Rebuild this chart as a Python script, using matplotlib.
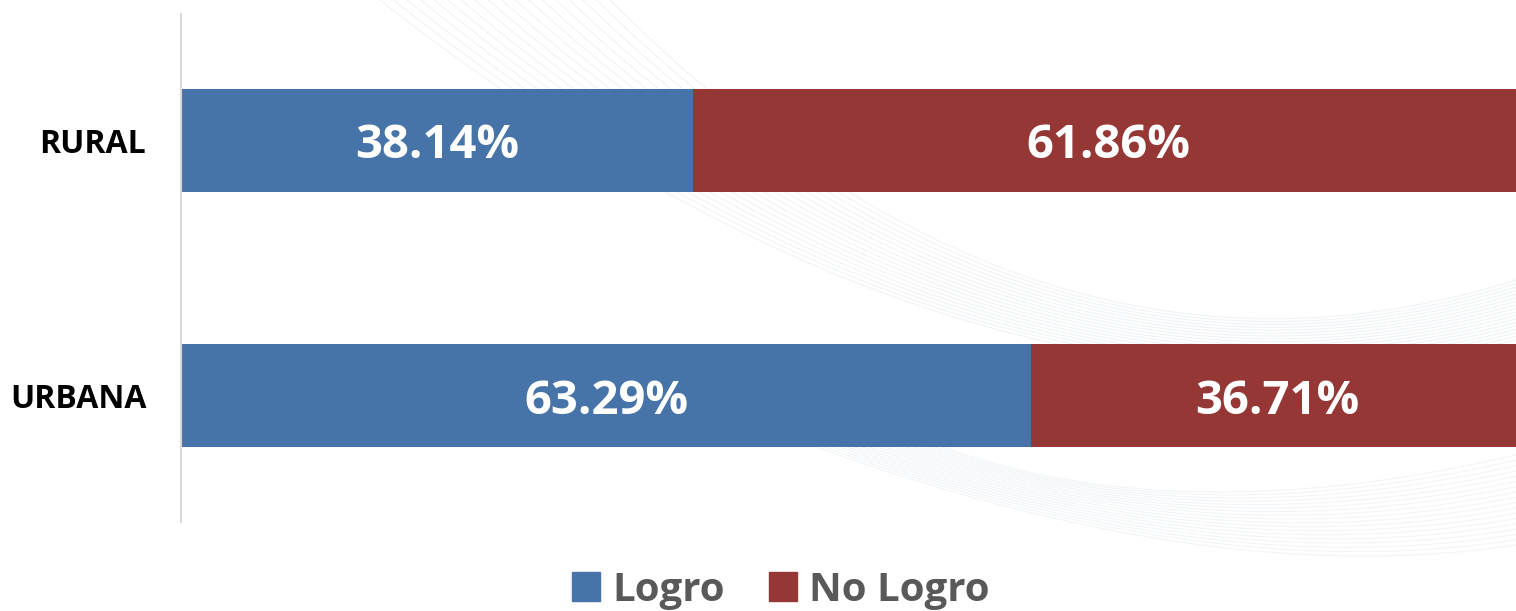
import numpy as np
import matplotlib.pyplot as plt
from matplotlib.patches import Patch

plt.rcParams['font.family'] = ['Open Sans', 'DejaVu Sans']

# Data (percent)
categories = ["URBANA", "RURAL"]
logro = [63.29, 38.14]
no_logro = [36.71, 61.86]
series_names = ["Logro", "No Logro"]

BLUE = "#4673A8"
RED = "#953735"

fig = plt.figure(figsize=(15.16, 6.11), dpi=100)

# Faint decorative swoosh in the background (pixel coords, y down)
bg = fig.add_axes([0, 0, 1, 1], zorder=0)
bg.set_xlim(0, 1516)
bg.set_ylim(611, 0)
bg.axis("off")
t = np.linspace(0, 1, 200)


def bezier(p0, p1, p2):
    x = (1 - t) ** 2 * p0[0] + 2 * (1 - t) * t * p1[0] + t ** 2 * p2[0]
    y = (1 - t) ** 2 * p0[1] + 2 * (1 - t) * t * p1[1] + t ** 2 * p2[1]
    return x, y


for i in range(18):
    f = i / 17
    x, y = bezier((380 + 230 * f, 0), (980 + 60 * f, 470 - 40 * f), (1516, 340 - 60 * f))
    bg.plot(x, y, color="#DDE4EA", lw=0.8, alpha=0.45)
    # second band starts hidden behind the lower bar
    x, y = bezier((650 + 250 * f, 380 + 50 * f), (1150, 600 - 60 * f), (1516, 545 - 90 * f))
    bg.plot(x, y, color="#DDE4EA", lw=0.8, alpha=0.4)

# plot area runs a little past the right edge of the image
ax = fig.add_axes([181 / 1516, 1 - 522 / 611, 1343 / 1516, 508 / 611], zorder=1)
ax.patch.set_alpha(0)

ypos = range(len(categories))
ax.barh(ypos, logro, height=0.404, color=BLUE)
ax.barh(ypos, no_logro, left=logro, height=0.404, color=RED)

# Value labels centred in each segment
for y, a, b in zip(ypos, logro, no_logro):
    ax.text(a / 2, y, f"{a:.2f}%", ha="center", va="center_baseline",
            color="white", fontsize=34, fontweight="bold")
    ax.text(a + b / 2, y, f"{b:.2f}%", ha="center", va="center_baseline",
            color="white", fontsize=34, fontweight="bold")

ax.set_xlim(0, 100)
ax.set_ylim(-0.496, 1.496)
ax.set_yticks(list(ypos))
ax.set_yticklabels(categories, fontsize=23, fontweight="bold", color="black")
ax.tick_params(axis="y", length=0, pad=25)
ax.set_xticks([])

for side in ["top", "right", "bottom"]:
    ax.spines[side].set_visible(False)
ax.spines["left"].set_color("#D9D9D9")
ax.spines["left"].set_linewidth(1.5)

handles = [Patch(color=BLUE), Patch(color=RED)]
leg = fig.legend(handles, series_names, loc="center",
                 bbox_to_anchor=(0.515, 1 - 590 / 611), ncol=2, frameon=False,
                 handlelength=0.7, handleheight=0.7, handletextpad=0.3,
                 columnspacing=1.1,
                 prop={"size": 29, "weight": "bold"})
for txt in leg.get_texts():
    txt.set_color("#595959")

fig.savefig("out.png", dpi=100)
